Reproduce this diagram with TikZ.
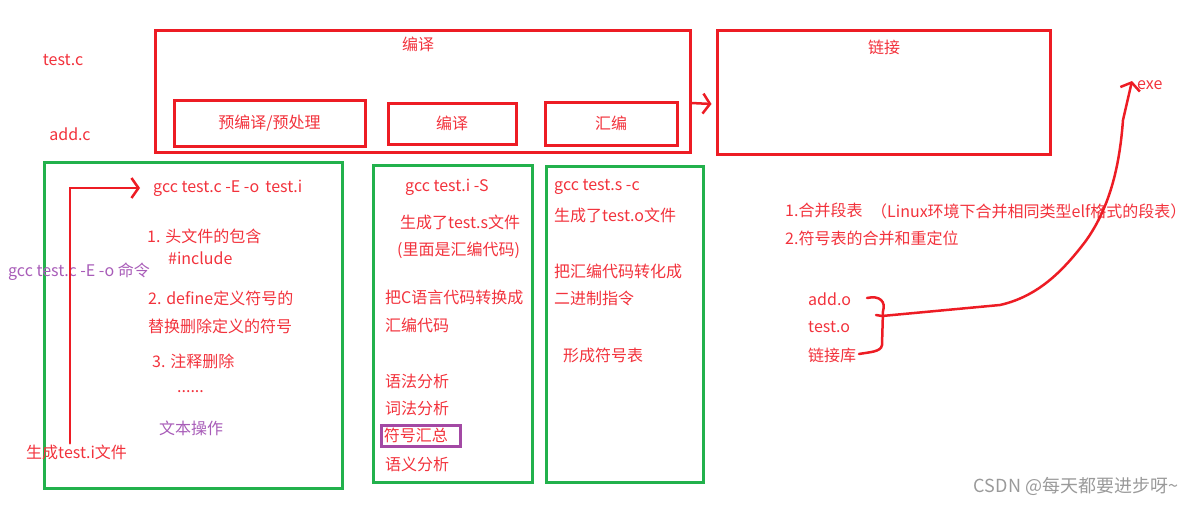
\documentclass[tikz,border=0pt]{standalone}
\usepackage{fontspec}
\setmainfont{Noto Sans CJK SC}
\usetikzlibrary{arrows.meta,calc,positioning}
\definecolor{PaintRed}{HTML}{ED1C24}
\definecolor{InkRed}{HTML}{F2323C}
\definecolor{PaintGreen}{HTML}{22B14C}
\definecolor{PaintPurple}{HTML}{A349A4}
\definecolor{InkPurple}{HTML}{A85CB8}
\definecolor{MarkGray}{HTML}{9A9A9A}
\tikzset{
  redbox/.style={draw=PaintRed,line width=3pt,inner sep=0pt},
  greenbox/.style={draw=PaintGreen,line width=3pt,inner sep=0pt},
  note/.style={text=InkRed,inner sep=1pt,anchor=west,
    font=\fontsize{16}{19}\selectfont},
  purplenote/.style={note,text=InkPurple},
  handarrow/.style={PaintRed,line width=2.5pt,line cap=round,
    -{Straight Barb[length=7pt,width=20pt,line width=2.5pt]}}
}

\begin{document}
\begin{tikzpicture}[x=1pt,y=-1pt]

        \useasboundingbox (0,0) rectangle (1202,506);

        \node[note,anchor=center] (testc) at (63,60) {test.c};
        \node[note,anchor=center] (addc) at (70,134) {add.c};

        \node[redbox,minimum width=535pt,minimum height=122pt]
          (compile) at (422.5,91) {};
        \node[note,anchor=center] (compiletitle) at (418,44) {编译};

        \node[redbox,minimum width=191pt,minimum height=46pt]
          (preproc) at (269.5,123) {\textcolor{InkRed}{\fontsize{16}{19}\selectfont 预编译/预处理}};
        \node[redbox,minimum width=128pt,minimum height=41pt]
          (comp) at (452,123.5) {\textcolor{InkRed}{\fontsize{16}{19}\selectfont 编译}};
        \node[redbox,minimum width=132pt,minimum height=43pt]
          (asm) at (611,123.5) {\textcolor{InkRed}{\fontsize{16}{19}\selectfont 汇编}};

        \node[redbox,minimum width=333pt,minimum height=124pt]
          (link) at (883.5,92) {};
        \node[note,anchor=center] (linktitle) at (884,47) {链接};

        \draw[handarrow] ([yshift=-12pt]compile.east) -- ([yshift=-12pt,xshift=-4pt]link.west);

        \node[greenbox,minimum width=298pt,minimum height=326pt]
          (prebox) at (193,325) {};
        \node[greenbox,minimum width=159pt,minimum height=317pt]
          (compbox) at (452.5,323.5) {};
        \node[greenbox,minimum width=157pt,minimum height=316pt]
          (asmbox) at (624.5,324) {};

        \node[note] (gcci) at (152,188) {gcc test.c -E -o\, test.i};
        \node[note] (incl) at (146,236) {1. 头文件的包含};
        \node[note] (inclname) at (167,258) {\#include};
        \node[purplenote] (gcccmd) at (7,272) {gcc test.c -E -o 命令};
        \node[note] (define) at (147,298) {2. define定义符号的};
        \node[note] (replace) at (147,326) {替换删除定义的符号};
        \node[note] (comment) at (151,361) {3. 注释删除};
        \node[note] (dots) at (176,392) {......};
        \node[purplenote] (textop) at (158,428) {文本操作};
        \node[note] (geni) at (25,452) {生成test.i文件};

        \draw[handarrow] (geni.north -| 70,0) |- ([xshift=-12pt]gcci.west);

        \node[note] (gccs) at (404,187) {gcc test.i -S};
        \node[note] (gens) at (399,222) {生成了test.s文件};
        \node[note] (inside) at (396,250) {(里面是汇编代码)};
        \node[note] (ctoasm) at (384,297) {把C语言代码转换成};
        \node[note] (asmcode) at (384,325) {汇编代码};
        \node[note] (syntax) at (384,381) {语法分析};
        \node[note] (lexer) at (384,408) {词法分析};
        \node[note,draw=PaintPurple,line width=2.5pt,minimum width=79pt,
          minimum height=21pt] (symsum) at (380,436)
          {\raisebox{3pt}{符号汇总}\hspace*{10pt}};
        \node[note] (semantic) at (384,464) {语义分析};

        \node[note] (gcco) at (553,187) {gcc test.s -c};
        \node[note] (geno) at (553,215) {生成了test.o文件};
        \node[note] (tobin) at (553,271) {把汇编代码转化成};
        \node[note] (bincode) at (553,298) {二进制指令};
        \node[note] (symtab) at (562,355) {形成符号表};

        \node[note] (merge) at (784,210) {1.合并段表};
        \node[note] (mergenote) at (870,211) {（Linux环境下合并相同类型elf格式的段表）};
        \node[note] (reloc) at (784,238) {2.符号表的合并和重定位};

        \node[note] (addo) at (807,299) {add.o};
        \node[note] (testo) at (807,327) {test.o};
        \node[note] (libs) at (807,355) {链接库};
        \node[note] (exe) at (1136,85) {exe};

        \coordinate (brace) at (882,316);
        \draw[PaintRed,line width=2.5pt,line cap=round]
          (867,298) .. controls (880,295) and (886,302) .. (883,311)
          -- (882,345) .. controls (881,352) and (870,352) .. (859,354);
        \draw[PaintRed,line width=2.5pt,line cap=round] (876,315) -- (brace);

        \draw[handarrow] (brace) -- (1000,305)
          .. controls (1040,296) and (1065,268) .. (1085,242)
          .. controls (1112,205) and (1120,160) .. (1123,120)
          -- ([xshift=-4pt,yshift=4pt]exe.west);

        \node[text=MarkGray,anchor=center,font=\fontsize{18}{21}\selectfont]
          (mark) at (1076,486) {CSDN @每天都要进步呀\textasciitilde};

      \end{tikzpicture}
\end{document}
